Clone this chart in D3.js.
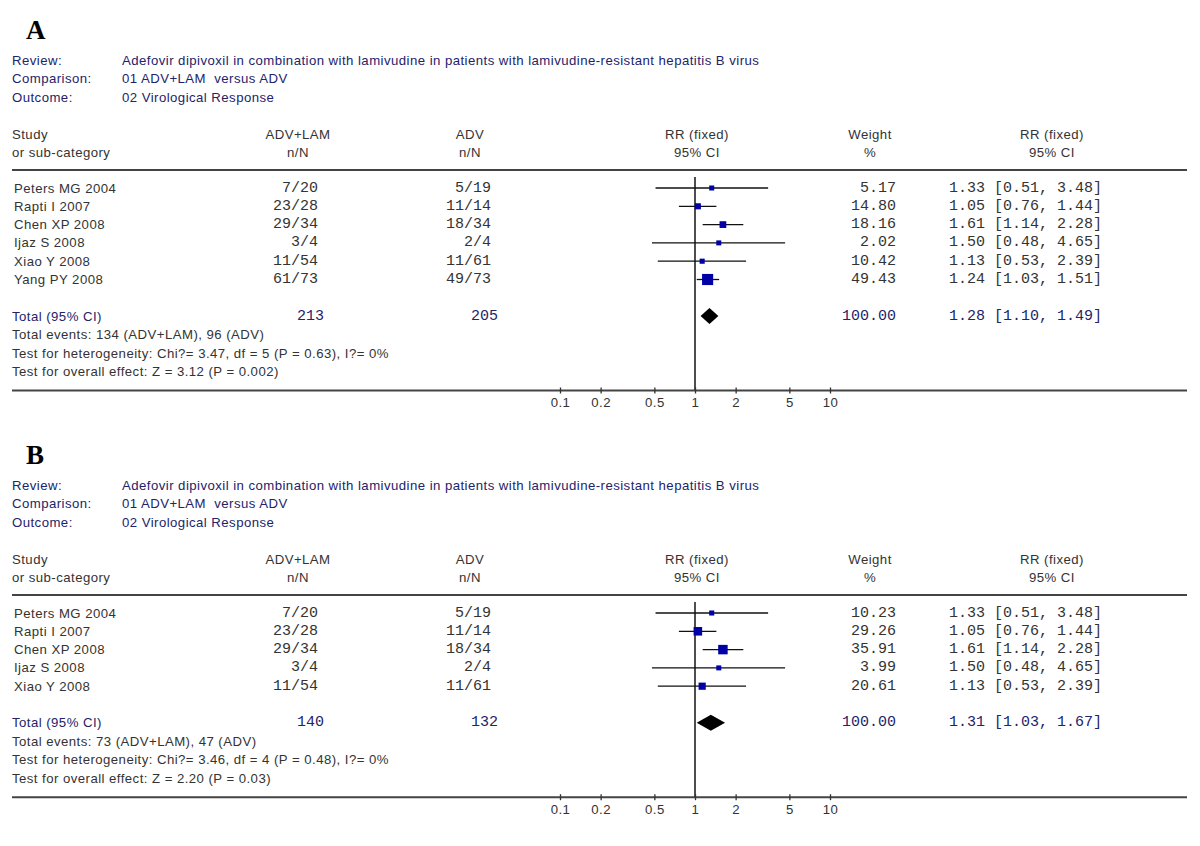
<!DOCTYPE html>
<html>
<head>
<meta charset="utf-8">
<script src="https://cdn.jsdelivr.net/npm/d3@7"></script>
<style>
  html, body { margin: 0; padding: 0; background: #fff; }
  svg { display: block; }
  .sans { font-family: Arial, "Liberation Sans", sans-serif; font-size: 13.2px; letter-spacing: 0.45px; }
  .mono { font-family: "Courier New", "Liberation Mono", monospace; font-size: 15px; }
  .panel-label { font-family: "Times New Roman", "Liberation Serif", serif; font-weight: bold; font-size: 27px; }
</style>
</head>
<body>
<svg id="chart" width="1200" height="846"></svg>
<script>
// ---------------- data ----------------
const panelLabels = ["A", "B"];
const metaLabels = ["Review:", "Comparison:", "Outcome:"];
const metaValues = [
  "Adefovir dipivoxil in combination with lamivudine in patients with lamivudine-resistant hepatitis B virus",
  "01 ADV+LAM  versus ADV",
  "02 Virological Response"
];
const colHeaders1 = ["Study", "ADV+LAM", "ADV", "RR (fixed)", "Weight", "RR (fixed)"];
const colHeaders2 = ["or sub-category", "n/N", "n/N", "95% CI", "%", "95% CI"];
const axisTicks = [0.1, 0.2, 0.5, 1, 2, 5, 10];

// Panel A
const studiesA = ["Peters MG 2004", "Rapti I 2007", "Chen XP 2008", "Ijaz S 2008", "Xiao Y 2008", "Yang PY 2008"];
const treatA = ["7/20", "23/28", "29/34", "3/4", "11/54", "61/73"];
const ctrlA = ["5/19", "11/14", "18/34", "2/4", "11/61", "49/73"];
const weightA = [5.17, 14.80, 18.16, 2.02, 10.42, 49.43];
const rrA = [1.33, 1.05, 1.61, 1.50, 1.13, 1.24];
const lowA = [0.51, 0.76, 1.14, 0.48, 0.53, 1.03];
const highA = [3.48, 1.44, 2.28, 4.65, 2.39, 1.51];
const totalNA = ["213", "205"];
const totalRRA = [1.28, 1.10, 1.49];
const totalWeightA = 100.00;
const statsA = [
  "Total events: 134 (ADV+LAM), 96 (ADV)",
  "Test for heterogeneity: Chi?= 3.47, df = 5 (P = 0.63), I?= 0%",
  "Test for overall effect: Z = 3.12 (P = 0.002)"
];

// Panel B
const studiesB = ["Peters MG 2004", "Rapti I 2007", "Chen XP 2008", "Ijaz S 2008", "Xiao Y 2008"];
const treatB = ["7/20", "23/28", "29/34", "3/4", "11/54"];
const ctrlB = ["5/19", "11/14", "18/34", "2/4", "11/61"];
const weightB = [10.23, 29.26, 35.91, 3.99, 20.61];
const rrB = [1.33, 1.05, 1.61, 1.50, 1.13];
const lowB = [0.51, 0.76, 1.14, 0.48, 0.53];
const highB = [3.48, 1.44, 2.28, 4.65, 2.39];
const totalNB = ["140", "132"];
const totalRRB = [1.31, 1.03, 1.67];
const totalWeightB = 100.00;
const statsB = [
  "Total events: 73 (ADV+LAM), 47 (ADV)",
  "Test for heterogeneity: Chi?= 3.46, df = 4 (P = 0.48), I?= 0%",
  "Test for overall effect: Z = 2.20 (P = 0.03)"
];

// ---------------- drawing ----------------
const svg = d3.select("#chart");
svg.append("rect").attr("width", 1200).attr("height", 846).attr("fill", "#fff");

const NAVY = "#23236b";
const DARK = "#333333";
const BLUE = "#0000a6";
const LINE = "#444444";

const x = d3.scaleLog().domain([0.1, 10]).range([560, 830]);
const boxSize = d3.scaleSqrt().domain([0, 100]).range([0, 15.8]);
const fmt2 = d3.format(".2f");

function drawPanel(top, label, studies, treat, ctrl, weight, rr, low, high, totalN, totalRR, totalWeight, stats) {
  const g = svg.append("g").attr("transform", `translate(0,${top})`);
  const n = studies.length;
  const step = 18.3;
  const rowY = d3.scaleLinear().domain([0, 1]).range([188, 188 + step]);
  const totalY = rowY(n - 1) + 36.5;
  const statY = d3.scaleLinear().domain([0, 1]).range([totalY + 18.5, totalY + 37]);
  const axisY = statY(2) + 19;

  g.append("text").attr("class", "panel-label").attr("x", 26).attr("y", 39).attr("fill", "#000").text(label);

  // meta
  metaLabels.forEach((t, i) => {
    g.append("text").attr("class", "sans").attr("x", 12).attr("y", 60 + i * 18.5)
      .attr("dominant-baseline", "central").attr("fill", NAVY).text(t);
    g.append("text").attr("class", "sans").attr("x", 122).attr("y", 60 + i * 18.5)
      .attr("dominant-baseline", "central").attr("fill", NAVY)
      .style("white-space", "pre").text(metaValues[i]);
  });

  // column headers
  const hx = [12, 298, 470, 697, 870, 1052];
  const ha = ["start", "middle", "middle", "middle", "middle", "middle"];
  colHeaders1.forEach((t, i) => {
    g.append("text").attr("class", "sans").attr("x", hx[i]).attr("y", 134).attr("text-anchor", ha[i])
      .attr("dominant-baseline", "central").attr("fill", DARK).text(t);
    g.append("text").attr("class", "sans").attr("x", hx[i]).attr("y", 152).attr("text-anchor", ha[i])
      .attr("dominant-baseline", "central").attr("fill", DARK).text(colHeaders2[i]);
  });

  // header rule
  g.append("line").attr("x1", 12).attr("x2", 1187).attr("y1", 170).attr("y2", 170)
    .attr("stroke", LINE).attr("stroke-width", 2);

  // vertical line of no effect
  g.append("line").attr("x1", x(1)).attr("x2", x(1)).attr("y1", 177).attr("y2", axisY)
    .attr("stroke", "#222").attr("stroke-width", 1.6);

  // rows
  const rows = g.selectAll("g.row").data(studies).join("g").attr("class", "row");
  rows.append("text").attr("class", "sans").attr("x", 14).attr("y", (d, i) => rowY(i))
    .attr("dominant-baseline", "central").attr("fill", DARK).text(d => d);
  rows.append("text").attr("class", "mono").attr("x", 318).attr("y", (d, i) => rowY(i))
    .attr("text-anchor", "end").attr("dominant-baseline", "central").attr("fill", DARK).text((d, i) => treat[i]);
  rows.append("text").attr("class", "mono").attr("x", 491).attr("y", (d, i) => rowY(i))
    .attr("text-anchor", "end").attr("dominant-baseline", "central").attr("fill", DARK).text((d, i) => ctrl[i]);
  rows.append("line").attr("x1", (d, i) => x(low[i])).attr("x2", (d, i) => x(high[i]))
    .attr("y1", (d, i) => rowY(i)).attr("y2", (d, i) => rowY(i)).attr("stroke", "#111").attr("stroke-width", 1.3);
  rows.append("rect")
    .attr("x", (d, i) => x(rr[i]) - Math.max(5, boxSize(weight[i])) / 2)
    .attr("y", (d, i) => rowY(i) - Math.max(5, boxSize(weight[i])) / 2)
    .attr("width", (d, i) => Math.max(5, boxSize(weight[i])))
    .attr("height", (d, i) => Math.max(5, boxSize(weight[i])))
    .attr("fill", BLUE);
  rows.append("text").attr("class", "mono").attr("x", 896).attr("y", (d, i) => rowY(i))
    .attr("text-anchor", "end").attr("dominant-baseline", "central").attr("fill", DARK).text((d, i) => fmt2(weight[i]));
  rows.append("text").attr("class", "mono").attr("x", 949).attr("y", (d, i) => rowY(i))
    .attr("dominant-baseline", "central").attr("fill", DARK)
    .text((d, i) => `${fmt2(rr[i])} [${fmt2(low[i])}, ${fmt2(high[i])}]`);

  // total row
  g.append("text").attr("class", "sans").attr("x", 12).attr("y", totalY).attr("dominant-baseline", "central")
    .attr("fill", NAVY).text("Total (95% CI)");
  g.append("text").attr("class", "mono").attr("x", 324).attr("y", totalY).attr("text-anchor", "end")
    .attr("dominant-baseline", "central").attr("fill", NAVY).text(totalN[0]);
  g.append("text").attr("class", "mono").attr("x", 498).attr("y", totalY).attr("text-anchor", "end")
    .attr("dominant-baseline", "central").attr("fill", NAVY).text(totalN[1]);
  const dh = 8;
  g.append("path")
    .attr("d", `M${x(totalRR[1])},${totalY} L${x(totalRR[0])},${totalY - dh} L${x(totalRR[2])},${totalY} L${x(totalRR[0])},${totalY + dh} Z`)
    .attr("fill", "#000");
  g.append("text").attr("class", "mono").attr("x", 896).attr("y", totalY).attr("text-anchor", "end")
    .attr("dominant-baseline", "central").attr("fill", NAVY).text(fmt2(totalWeight));
  g.append("text").attr("class", "mono").attr("x", 949).attr("y", totalY)
    .attr("dominant-baseline", "central").attr("fill", NAVY)
    .text(`${fmt2(totalRR[0])} [${fmt2(totalRR[1])}, ${fmt2(totalRR[2])}]`);

  stats.forEach((t, i) => {
    g.append("text").attr("class", "sans").attr("x", 12).attr("y", statY(i)).attr("dominant-baseline", "central")
      .attr("fill", DARK).text(t);
  });

  // bottom rule / axis
  g.append("line").attr("x1", 12).attr("x2", 1187).attr("y1", axisY).attr("y2", axisY)
    .attr("stroke", LINE).attr("stroke-width", 2);
  const axis = d3.axisBottom(x).tickValues(axisTicks).tickFormat(d => String(d)).tickSizeInner(3).tickSizeOuter(0).tickPadding(4);
  const ag = g.append("g").attr("transform", `translate(0,${axisY})`).call(axis);
  ag.select(".domain").remove();
  ag.selectAll(".tick line").attr("y1", -3).attr("y2", 3).attr("stroke", "#333").attr("stroke-width", 1.3);
  ag.selectAll(".tick text").attr("class", "sans").attr("fill", DARK).attr("font-size", null).attr("font-family", null)
    .attr("dy", null).attr("y", 12).attr("dominant-baseline", "central");
}

drawPanel(0, panelLabels[0], studiesA, treatA, ctrlA, weightA, rrA, lowA, highA, totalNA, totalRRA, totalWeightA, statsA);
drawPanel(425, panelLabels[1], studiesB, treatB, ctrlB, weightB, rrB, lowB, highB, totalNB, totalRRB, totalWeightB, statsB);
</script>
</body>
</html>
